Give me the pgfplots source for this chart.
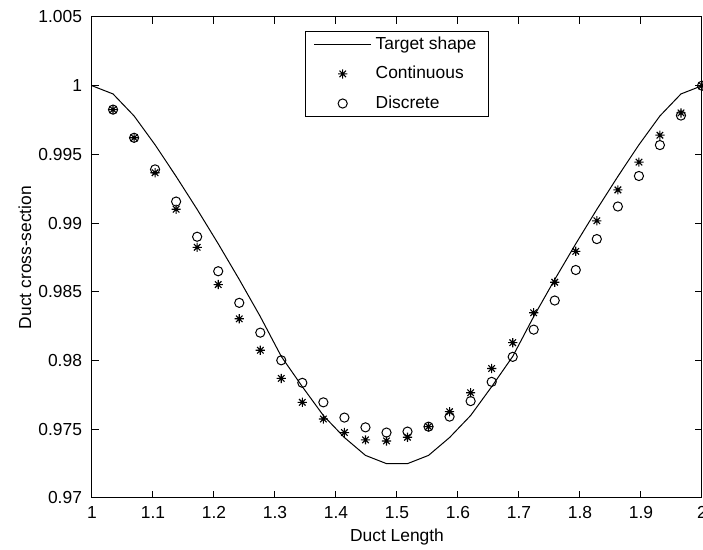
\documentclass[border=0pt]{standalone}
\usepackage{fontspec}
\setmainfont{Liberation Sans}
\usepackage{pgfplots}
\pgfplotsset{compat=1.18}
\pgfdeclareplotmark{mstar}{%
 \pgfpathmoveto{\pgfqpoint{-\pgfplotmarksize}{0pt}}\pgfpathlineto{\pgfqpoint{\pgfplotmarksize}{0pt}}%
 \pgfpathmoveto{\pgfqpoint{0pt}{-\pgfplotmarksize}}\pgfpathlineto{\pgfqpoint{0pt}{\pgfplotmarksize}}%
 \pgfpathmoveto{\pgfqpoint{-.7071\pgfplotmarksize}{-.7071\pgfplotmarksize}}\pgfpathlineto{\pgfqpoint{.7071\pgfplotmarksize}{.7071\pgfplotmarksize}}%
 \pgfpathmoveto{\pgfqpoint{-.7071\pgfplotmarksize}{.7071\pgfplotmarksize}}\pgfpathlineto{\pgfqpoint{.7071\pgfplotmarksize}{-.7071\pgfplotmarksize}}%
 \pgfusepathqstroke}
\begin{document}
\begin{tikzpicture}
\begin{axis}[
  scale only axis, width=305pt, height=240.5pt,
  xmin=1, xmax=2, ymin=0.97, ymax=1.005,
  axis line style={line width=0.5pt},
  font=\fontsize{8.7}{10.4}\selectfont,
  xtick={1,1.1,1.2,1.3,1.4,1.5,1.6,1.7,1.8,1.9,2},
  xticklabels={1,1.1,1.2,1.3,1.4,1.5,1.6,1.7,1.8,1.9,2},
  ytick={0.97,0.975,0.98,0.985,0.99,0.995,1,1.005},
  yticklabels={0.97,0.975,0.98,0.985,0.99,0.995,1,1.005},
  scaled y ticks=false, scaled x ticks=false,
  tick align=inside, major tick length=3.5pt,
  every tick/.style={black, line width=0.5pt},
  yticklabel style={xshift=-1.5pt},
  xticklabel style={yshift=-0.6pt},
  xlabel={Duct Length}, ylabel={Duct cross-section},
  xlabel style={at={(axis description cs:0.5,-0.0811)}, anchor=center},
  ylabel style={at={(axis description cs:-0.1098,0.5)}, anchor=center, rotate=0},
  legend cell align=left,
  legend image code/.code={\draw[mark repeat=2,mark phase=2,#1] plot coordinates {(0pt,0pt) (14.25pt,0pt) (28.5pt,0pt)};},
  legend style={at={(axis description cs:0.5,0.9709)}, anchor=north, draw=black, line width=0.5pt, fill=white,
    inner ysep=0.5pt, inner xsep=4pt, row sep=3pt,
    font=\fontsize{8.7}{10.4}\selectfont,
    /tikz/every even column/.append style={column sep=0pt},
    nodes={inner xsep=2pt}},
]
\addplot[black, line width=0.5pt, mark=none] coordinates {
(1.0000,1.0000) (1.0345,0.9994) (1.0690,0.9978) (1.1034,0.9957) (1.1379,0.9934)
(1.1724,0.9910) (1.2069,0.9885) (1.2414,0.9859) (1.2759,0.9832) (1.3103,0.9803)
(1.3448,0.9781) (1.3793,0.9760) (1.4138,0.9744) (1.4483,0.9731) (1.4828,0.9725)
(1.5172,0.9725) (1.5517,0.9731) (1.5862,0.9744) (1.6207,0.9760) (1.6552,0.9781)
(1.6897,0.9803) (1.7241,0.9832) (1.7586,0.9859) (1.7931,0.9885) (1.8276,0.9910)
(1.8621,0.9934) (1.8966,0.9957) (1.9310,0.9978) (1.9655,0.9994) (2.0000,1.0000)
};
\addlegendentry{Target shape}
\addplot[black, only marks, mark=mstar, mark size=2.3pt, mark options={line width=0.55pt}] coordinates {
(1.0345,0.99826) (1.0690,0.99621) (1.1034,0.99367) (1.1379,0.99101) (1.1724,0.98824)
(1.2069,0.98553) (1.2414,0.98304) (1.2759,0.98075) (1.3103,0.97870) (1.3448,0.97696)
(1.3793,0.97575) (1.4138,0.97476) (1.4483,0.97423) (1.4828,0.97415) (1.5172,0.97442)
(1.5517,0.97519) (1.5862,0.97628) (1.6207,0.97766) (1.6552,0.97942) (1.6897,0.98130)
(1.7241,0.98348) (1.7586,0.98570) (1.7931,0.98795) (1.8276,0.99017) (1.8621,0.99242)
(1.8966,0.99444) (1.9310,0.99640) (1.9655,0.99802) (2.0000,1.00000)
};
\addlegendentry{Continuous}
\addplot[black, only marks, mark=o, mark size=2.3pt, mark options={line width=0.5pt}] coordinates {
(1.0345,0.99826) (1.0690,0.99621) (1.1034,0.99391) (1.1379,0.99157) (1.1724,0.98901)
(1.2069,0.98650) (1.2414,0.98420) (1.2759,0.98203) (1.3103,0.98002) (1.3448,0.97838)
(1.3793,0.97696) (1.4138,0.97585) (1.4483,0.97514) (1.4828,0.97476) (1.5172,0.97483)
(1.5517,0.97519) (1.5862,0.97592) (1.6207,0.97705) (1.6552,0.97845) (1.6897,0.98027)
(1.7241,0.98225) (1.7586,0.98437) (1.7931,0.98659) (1.8276,0.98884) (1.8621,0.99121)
(1.8966,0.99343) (1.9310,0.99568) (1.9655,0.99783) (2.0000,1.00000)
};
\addlegendentry{Discrete}
\end{axis}
\pgfresetboundingbox
\path[use as bounding box] ([shift={(-46pt,-26pt)}]current axis.south west) rectangle ([shift={(0.5pt,8.5pt)}]current axis.north east);
\end{tikzpicture}
\end{document}
